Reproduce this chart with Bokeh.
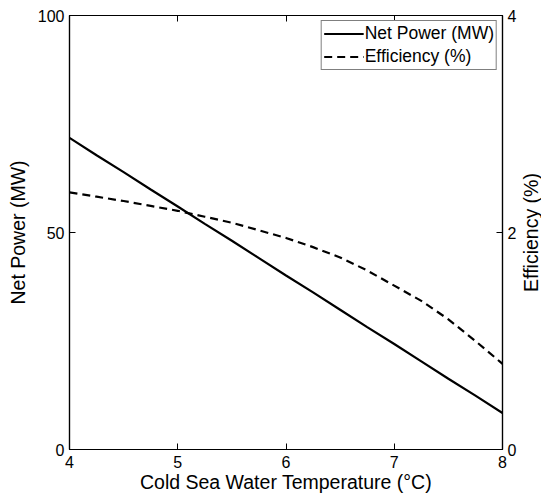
import math
from bokeh.plotting import figure
from bokeh.models import Range1d, LinearAxis, FixedTicker, Legend, LegendItem, Label
from bokeh.embed import file_html
from bokeh.resources import INLINE

temperature = [4.0, 4.25, 4.5, 4.75, 5.0, 5.25, 5.5, 5.75, 6.0, 6.25, 6.5, 6.75, 7.0, 7.25, 7.5, 7.75, 8.0]
net_power = [71.8, 67.8, 63.9, 59.9, 56.0, 52.0, 48.1, 44.1, 40.1, 36.2, 32.2, 28.2, 24.3, 20.3, 16.3, 12.4, 8.4]
efficiency = [2.37, 2.33, 2.29, 2.245, 2.20, 2.145, 2.09, 2.02, 1.95, 1.865, 1.77, 1.65, 1.51, 1.37, 1.20, 1.00, 0.79]

x_ticks = [4, 5, 6, 7, 8]
left_ticks = [0, 50, 100]
right_ticks = [0, 2, 4]

FONT = "Liberation Sans"
LABEL_SIZE = "19.5px"

p = figure(width=541, height=499, output_backend="svg", toolbar_location=None,
           x_range=Range1d(4, 8), y_range=Range1d(0, 100),
           min_border_left=69, min_border_right=37, min_border_top=15, min_border_bottom=50)
p.extra_y_ranges = {"eff": Range1d(0, 4)}
p.xgrid.visible = False
p.ygrid.visible = False
p.outline_line_color = "black"
p.outline_line_width = 1.2
p.background_fill_color = "white"
p.border_fill_color = "white"

def style(ax, ticks):
    ax.ticker = FixedTicker(ticks=ticks)
    ax.major_tick_in = 6
    ax.major_tick_out = 0
    ax.minor_tick_line_color = None
    ax.axis_line_color = "black"
    ax.axis_line_width = 1.2
    ax.major_tick_line_color = "black"
    ax.major_label_text_font = FONT
    ax.major_label_text_font_size = "16px"
    ax.major_label_text_color = "black"
    ax.axis_label_text_font = FONT
    ax.axis_label_text_font_size = LABEL_SIZE
    ax.axis_label_text_font_style = "normal"
    ax.axis_label_text_color = "black"

xa = p.xaxis[0]
style(xa, x_ticks)
xa.axis_label = "Cold Sea Water Temperature (°C)"
xa.major_label_standoff = 6
xa.axis_label_standoff = 0

ya = p.yaxis[0]
style(ya, left_ticks)
ya.axis_label = "Net Power (MW)"
ya.major_label_standoff = 5
ya.axis_label_standoff = 6

ra = LinearAxis(y_range_name="eff")
style(ra, right_ticks)
ra.major_label_standoff = 5
p.add_layout(ra, "right")

ta = LinearAxis()
style(ta, x_ticks)
ta.major_label_overrides = {t: "" for t in x_ticks}
ta.major_label_standoff = 0
p.add_layout(ta, "above")

right_label = Label(x=x_ticks[-1], y=right_ticks[1], y_range_name="eff",
                    x_offset=28, angle=math.pi / 2, text="Efficiency (%)",
                    text_align="center", text_baseline="middle",
                    text_font=FONT, text_font_size=LABEL_SIZE, text_color="black")
p.add_layout(right_label, "right")

r1 = p.line(temperature, net_power, line_color="black", line_width=2.2)
r2 = p.line(temperature, efficiency, y_range_name="eff", line_color="black",
            line_width=2.2, line_dash="8 5")

legend = Legend(items=[LegendItem(label="Net Power (MW)", renderers=[r1]),
                       LegendItem(label="Efficiency (%)", renderers=[r2])],
                location="top_right")
legend.label_text_font = FONT
legend.label_text_font_size = "17.5px"
legend.label_text_color = "black"
legend.border_line_color = "black"
legend.border_line_width = 1
legend.glyph_width = 40
legend.glyph_height = 21
legend.label_height = 21
legend.label_standoff = 1
legend.spacing = 2
legend.padding = 2
legend.margin = 5
legend.background_fill_alpha = 1
p.add_layout(legend, "center")

open("out.html", "w").write(file_html(p, INLINE))
